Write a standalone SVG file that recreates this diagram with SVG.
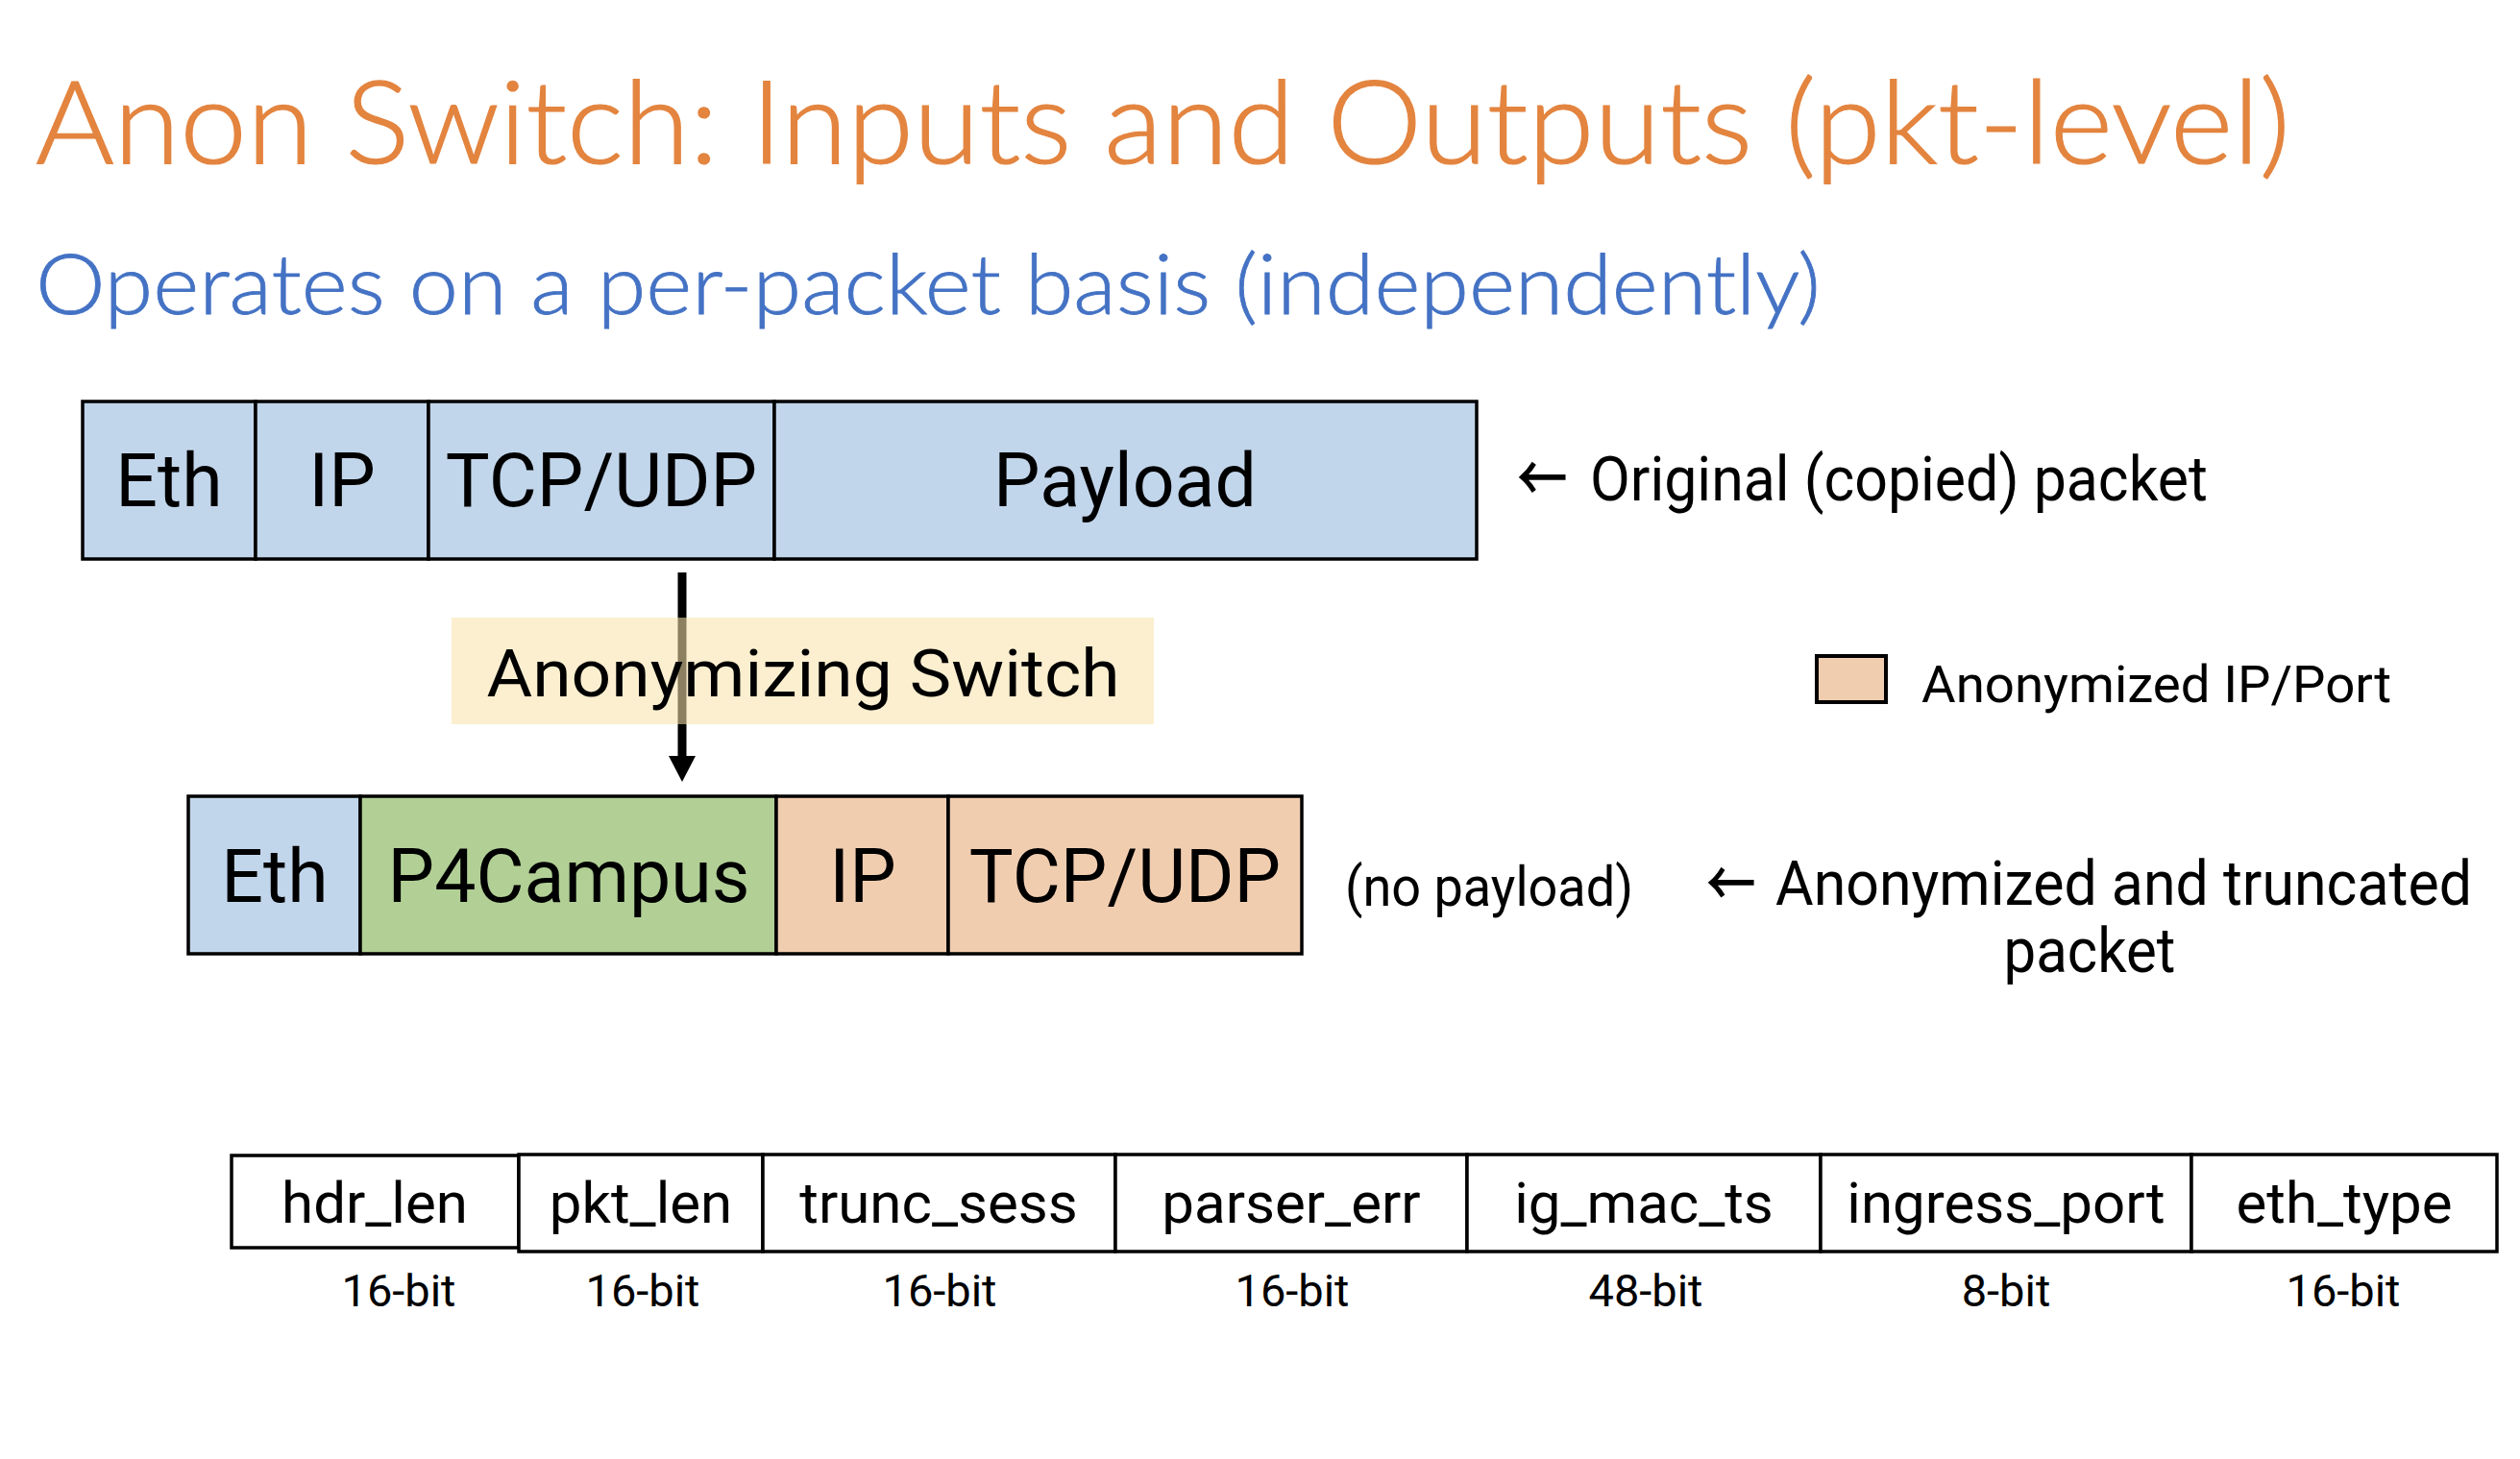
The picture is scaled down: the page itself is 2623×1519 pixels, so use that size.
<svg xmlns="http://www.w3.org/2000/svg" width="2623" height="1519" viewBox="0 0 2623 1519">
  <style>
    .title { font-family: Lato, "Open Sans", "Liberation Sans", sans-serif; font-weight: 300; }
    .lbl { font-family: Roboto, "Liberation Sans", sans-serif; fill: #000; }
    .arrow { font-family: "Noto Sans CJK SC", "DejaVu Sans", sans-serif; fill: #000; stroke: #000; stroke-width: 1.5; }
    .cell { stroke: #000; stroke-width: 3.5; }
    .blue { fill: #C2D6EB; }
    .green { fill: #B2D096; }
    .peach { fill: #F1CDB0; }
    .field { fill: #fff; stroke: #000; stroke-width: 3.5; }
    .hdr { font-size: 77px; text-anchor: middle; }
    .fld { font-size: 60px; text-anchor: middle; }
    .bits { font-size: 47px; text-anchor: middle; }
  </style>

  <rect width="2623" height="1519" fill="#fff"/>

  <!-- headings -->
  <text class="title" x="37" y="170" font-size="121" fill="#E3843F" stroke="#E3843F" stroke-width="1.2" textLength="2347" lengthAdjust="spacingAndGlyphs">Anon Switch: Inputs and Outputs (pkt-level)</text>
  <text class="title" x="37" y="327" font-size="87" fill="#4472C4" stroke="#4472C4" stroke-width="0.8" textLength="1858" lengthAdjust="spacingAndGlyphs">Operates on a per-packet basis (independently)</text>

  <!-- connectors -->
  <g id="connectors">
    <line x1="710" y1="596" x2="710" y2="790" stroke="#000" stroke-width="9"/>
    <polygon points="696,787 724,787 710,814" fill="#000"/>
  </g>

  <!-- original packet -->
  <g id="original-packet">
    <rect class="cell blue" x="86" y="418" width="180" height="164"/>
    <rect class="cell blue" x="266" y="418" width="180" height="164"/>
    <rect class="cell blue" x="446" y="418" width="360" height="164"/>
    <rect class="cell blue" x="806" y="418" width="731" height="164"/>
    <text class="lbl hdr" x="176" y="527">Eth</text>
    <text class="lbl hdr" x="356" y="527">IP</text>
    <text class="lbl hdr" x="626" y="527">TCP/UDP</text>
    <text class="lbl hdr" x="1171" y="527">Payload</text>
  </g>
  <g id="original-label">
    <text class="arrow" x="1580" y="521" font-size="64" textLength="51" lengthAdjust="spacingAndGlyphs">←</text>
    <text class="lbl" x="1655" y="521" font-size="65" textLength="643" lengthAdjust="spacingAndGlyphs">Original (copied) packet</text>
  </g>

  <!-- switch -->
  <g id="anonymizing-switch">
    <rect x="470" y="643" width="731" height="111" fill="#F8E3AA" fill-opacity="0.565"/>
    <text class="lbl" x="836" y="725" font-size="68" text-anchor="middle" textLength="659" lengthAdjust="spacingAndGlyphs">Anonymizing Switch</text>
  </g>

  <!-- legend -->
  <g id="legend">
    <rect class="peach" x="1891" y="683" width="72" height="48" stroke="#000" stroke-width="4"/>
    <text class="lbl" x="2000" y="731" font-size="54" textLength="489" lengthAdjust="spacingAndGlyphs">Anonymized IP/Port</text>
  </g>

  <!-- anonymized packet -->
  <g id="anonymized-packet">
    <rect class="cell blue" x="196" y="829" width="179" height="164"/>
    <rect class="cell green" x="375" y="829" width="433" height="164"/>
    <rect class="cell peach" x="808" y="829" width="179" height="164"/>
    <rect class="cell peach" x="987" y="829" width="368" height="164"/>
    <text class="lbl hdr" x="286" y="939">Eth</text>
    <text class="lbl hdr" x="592" y="939">P4Campus</text>
    <text class="lbl hdr" x="898" y="939">IP</text>
    <text class="lbl hdr" x="1171" y="939">TCP/UDP</text>
  </g>
  <g id="no-payload">
    <text class="lbl" x="1400" y="943" font-size="58" textLength="300" lengthAdjust="spacingAndGlyphs">(no payload)</text>
  </g>
  <g id="anonymized-label">
    <text class="arrow" x="1777" y="942" font-size="63" textLength="50" lengthAdjust="spacingAndGlyphs">←</text>
    <text class="lbl" x="1848" y="942" font-size="64" textLength="725" lengthAdjust="spacingAndGlyphs">Anonymized and truncated</text>
    <text class="lbl" x="2175" y="1012" font-size="64" text-anchor="middle" textLength="179" lengthAdjust="spacingAndGlyphs">packet</text>
  </g>

  <!-- metadata header fields -->
  <g id="field-hdr_len">
    <rect class="field" x="241" y="1203" width="299" height="96"/>
    <text class="lbl fld" x="390" y="1273">hdr_len</text>
    <text class="lbl bits" x="415" y="1360">16-bit</text>
  </g>
  <g id="field-pkt_len">
    <rect class="field" x="540" y="1202" width="254" height="101"/>
    <text class="lbl fld" x="667" y="1273">pkt_len</text>
    <text class="lbl bits" x="669" y="1360">16-bit</text>
  </g>
  <g id="field-trunc_sess">
    <rect class="field" x="794" y="1202" width="367" height="101"/>
    <text class="lbl fld" x="977" y="1273">trunc_sess</text>
    <text class="lbl bits" x="978" y="1360">16-bit</text>
  </g>
  <g id="field-parser_err">
    <rect class="field" x="1161" y="1202" width="366" height="101"/>
    <text class="lbl fld" x="1344" y="1273">parser_err</text>
    <text class="lbl bits" x="1345" y="1360">16-bit</text>
  </g>
  <g id="field-ig_mac_ts">
    <rect class="field" x="1527" y="1202" width="368" height="101"/>
    <text class="lbl fld" x="1711" y="1273">ig_mac_ts</text>
    <text class="lbl bits" x="1713" y="1360">48-bit</text>
  </g>
  <g id="field-ingress_port">
    <rect class="field" x="1895" y="1202" width="386" height="101"/>
    <text class="lbl fld" x="2088" y="1273">ingress_port</text>
    <text class="lbl bits" x="2088" y="1360">8-bit</text>
  </g>
  <g id="field-eth_type">
    <rect class="field" x="2281" y="1202" width="318" height="101"/>
    <text class="lbl fld" x="2440" y="1273">eth_type</text>
    <text class="lbl bits" x="2439" y="1360">16-bit</text>
  </g>
</svg>
